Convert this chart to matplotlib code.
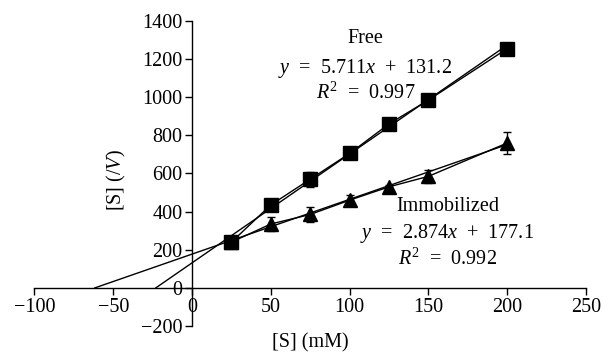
import numpy as np
import matplotlib.pyplot as plt

# substrate concentration (mM)
conc = [25, 50, 75, 100, 125, 150, 200]

# [S]/V values
free_val = [240, 435, 570, 705, 860, 985, 1255]
free_err = [25, 15, 40, 15, 15, 15, 15]
immob_val = [240, 335, 385, 460, 530, 585, 760]
immob_err = [20, 35, 40, 25, 10, 35, 60]

# linear trend lines as printed on the chart
free_fit = (5.711, 131.2, 0.997)
immob_fit = (2.874, 177.1, 0.992)

x_ticks = [-100, -50, 0, 50, 100, 150, 200, 250]
y_ticks = [-200, 0, 200, 400, 600, 800, 1000, 1200, 1400]

plt.rcParams['font.family'] = ['Liberation Serif', 'DejaVu Serif']
plt.rcParams['mathtext.fontset'] = 'custom'
plt.rcParams['mathtext.rm'] = 'Liberation Serif'
plt.rcParams['mathtext.it'] = 'Liberation Serif:italic'
plt.rcParams['font.size'] = 14.5

fig = plt.figure(figsize=(6.03, 3.54), dpi=100)
ax = fig.add_axes([0.057, 0.079, 0.915, 0.862])

# trend lines from x-intercept to the last point
for slope, icpt, r2 in [free_fit, immob_fit]:
    xs = np.array([-icpt / slope, conc[-1]])
    ax.plot(xs, slope * xs + icpt, color='black', lw=1.0, zorder=2)

ax.errorbar(conc, free_val, yerr=free_err, color='black', lw=1.0, marker='s',
            ms=10, capsize=3, elinewidth=1.0, capthick=1.0, zorder=3)
ax.errorbar(conc, immob_val, yerr=immob_err, color='black', lw=1.0, marker='^',
            ms=10, capsize=3, elinewidth=1.0, capthick=1.0, zorder=3)

ax.text(110, 1306, 'Free', ha='center', va='center')
ax.text(110, 1149, '$y$  =  %.3f$x$  +  %.1f' % free_fit[:2], ha='center', va='center')
ax.text(110, 1020, '$R^2$  =  %.3f' % free_fit[2], ha='center', va='center')

ax.text(162, 428, 'Immobilized', ha='center', va='center')
ax.text(162, 287, '$y$  =  %.3f$x$  +  %.1f' % immob_fit[:2], ha='center', va='center')
ax.text(162, 153, '$R^2$  =  %.3f' % immob_fit[2], ha='center', va='center')

ax.set_xlim(-100, 250)
ax.set_ylim(-200, 1400)
ax.set_xticks(x_ticks)
ax.set_yticks(y_ticks)
ax.set_xticklabels([str(v).replace('-', '\u2212') for v in x_ticks])
ax.set_yticklabels([str(v).replace('-', '\u2212') for v in y_ticks])

ax.spines['left'].set_position(('data', 0))
ax.spines['bottom'].set_position(('data', 0))
ax.spines['top'].set_visible(False)
ax.spines['right'].set_visible(False)
ax.spines['left'].set_linewidth(1.0)
ax.spines['bottom'].set_linewidth(1.0)
ax.tick_params(direction='out', length=5, width=1.0, pad=2)

ax.set_xlabel('[S] (mM)')
ax.set_ylabel('[S] (/$V$)')
ax.xaxis.set_label_coords(0.50, -0.025)
ax.yaxis.set_label_coords(0.17, 0.48)
ax.patch.set_alpha(0)

fig.savefig('out.png', dpi=100)
